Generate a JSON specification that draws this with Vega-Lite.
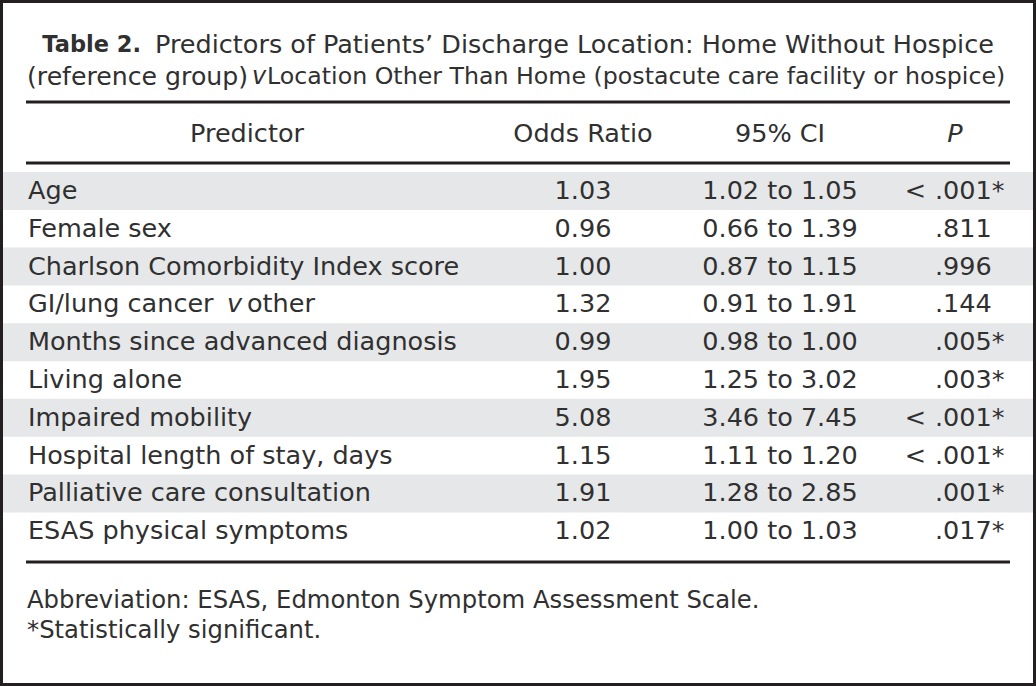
{
  "$schema": "https://vega.github.io/schema/vega-lite/v6.json",
  "width": 1036,
  "height": 686,
  "autosize": {"type": "fit", "contains": "padding"},
  "padding": 0,
  "background": "white",
  "config": {
    "view": {"stroke": "#231f20", "strokeWidth": 6},
    "text": {"font": "DejaVu Sans", "fontSize": 25.5, "color": "#303030", "baseline": "middle"}
  },
  "datasets": {
    "rows": [
      {"i": 1, "Predictor": "Age", "OR": "1.03", "CI": "1.02 to 1.05", "Pcmp": "<", "P": ".001*"},
      {"i": 2, "Predictor": "Female sex", "OR": "0.96", "CI": "0.66 to 1.39", "Pcmp": "", "P": ".811"},
      {"i": 3, "Predictor": "Charlson Comorbidity Index score", "OR": "1.00", "CI": "0.87 to 1.15", "Pcmp": "", "P": ".996"},
      {"i": 4, "Predictor": "GI/lung cancer v other", "OR": "1.32", "CI": "0.91 to 1.91", "Pcmp": "", "P": ".144"},
      {"i": 5, "Predictor": "Months since advanced diagnosis", "OR": "0.99", "CI": "0.98 to 1.00", "Pcmp": "", "P": ".005*"},
      {"i": 6, "Predictor": "Living alone", "OR": "1.95", "CI": "1.25 to 3.02", "Pcmp": "", "P": ".003*"},
      {"i": 7, "Predictor": "Impaired mobility", "OR": "5.08", "CI": "3.46 to 7.45", "Pcmp": "<", "P": ".001*"},
      {"i": 8, "Predictor": "Hospital length of stay, days", "OR": "1.15", "CI": "1.11 to 1.20", "Pcmp": "<", "P": ".001*"},
      {"i": 9, "Predictor": "Palliative care consultation", "OR": "1.91", "CI": "1.28 to 2.85", "Pcmp": "", "P": ".001*"},
      {"i": 10, "Predictor": "ESAS physical symptoms", "OR": "1.02", "CI": "1.00 to 1.03", "Pcmp": "", "P": ".017*"}
    ]
  },
  "layer": [
    {
      "data": {"name": "rows"},
      "transform": [{"filter": "datum.i % 2 == 1"}],
      "mark": {"type": "tick", "orient": "horizontal", "color": "#e6e7e8", "size": 1030, "thickness": 38, "opacity": 1},
      "encoding": {
        "x": {"datum": 518, "type": "quantitative", "scale": {"domain": [0, 1036], "nice": false, "zero": false}, "axis": null},
        "y": {"field": "i", "type": "quantitative", "scale": {"domain": [-4.053, 14.095], "reverse": true, "nice": false, "zero": false}, "axis": null}
      }
    },
    {
      "data": {"name": "rows"},
      "transform": [{"filter": "datum.i != 4"}],
      "mark": {"type": "text", "align": "left"},
      "encoding": {
        "x": {"datum": 28, "type": "quantitative", "scale": {"domain": [0, 1036], "nice": false, "zero": false}, "axis": null},
        "y": {"field": "i", "type": "quantitative", "scale": {"domain": [-4.053, 14.095], "reverse": true, "nice": false, "zero": false}, "axis": null},
        "text": {"field": "Predictor"}
      }
    },
    {
      "data": {"values": [{"i": 4, "part": "GI/lung cancer"}]},
      "mark": {"type": "text", "align": "left"},
      "encoding": {
        "x": {"datum": 28, "type": "quantitative", "scale": {"domain": [0, 1036], "nice": false, "zero": false}, "axis": null},
        "y": {"field": "i", "type": "quantitative", "scale": {"domain": [-4.053, 14.095], "reverse": true, "nice": false, "zero": false}, "axis": null},
        "text": {"field": "part"}
      }
    },
    {
      "data": {"values": [{"i": 4, "part": "v"}]},
      "mark": {"type": "text", "align": "left", "fontStyle": "italic"},
      "encoding": {
        "x": {"datum": 227, "type": "quantitative", "scale": {"domain": [0, 1036], "nice": false, "zero": false}, "axis": null},
        "y": {"field": "i", "type": "quantitative", "scale": {"domain": [-4.053, 14.095], "reverse": true, "nice": false, "zero": false}, "axis": null},
        "text": {"field": "part"}
      }
    },
    {
      "data": {"values": [{"i": 4, "part": "other"}]},
      "mark": {"type": "text", "align": "left"},
      "encoding": {
        "x": {"datum": 247, "type": "quantitative", "scale": {"domain": [0, 1036], "nice": false, "zero": false}, "axis": null},
        "y": {"field": "i", "type": "quantitative", "scale": {"domain": [-4.053, 14.095], "reverse": true, "nice": false, "zero": false}, "axis": null},
        "text": {"field": "part"}
      }
    },
    {
      "data": {"name": "rows"},
      "mark": {"type": "text", "align": "center"},
      "encoding": {
        "x": {"datum": 583, "type": "quantitative", "scale": {"domain": [0, 1036], "nice": false, "zero": false}, "axis": null},
        "y": {"field": "i", "type": "quantitative", "scale": {"domain": [-4.053, 14.095], "reverse": true, "nice": false, "zero": false}, "axis": null},
        "text": {"field": "OR"}
      }
    },
    {
      "data": {"name": "rows"},
      "mark": {"type": "text", "align": "center"},
      "encoding": {
        "x": {"datum": 780, "type": "quantitative", "scale": {"domain": [0, 1036], "nice": false, "zero": false}, "axis": null},
        "y": {"field": "i", "type": "quantitative", "scale": {"domain": [-4.053, 14.095], "reverse": true, "nice": false, "zero": false}, "axis": null},
        "text": {"field": "CI"}
      }
    },
    {
      "data": {"name": "rows"},
      "transform": [{"filter": "datum.Pcmp != ''"}],
      "mark": {"type": "text", "align": "right"},
      "encoding": {
        "x": {"datum": 926, "type": "quantitative", "scale": {"domain": [0, 1036], "nice": false, "zero": false}, "axis": null},
        "y": {"field": "i", "type": "quantitative", "scale": {"domain": [-4.053, 14.095], "reverse": true, "nice": false, "zero": false}, "axis": null},
        "text": {"field": "Pcmp"}
      }
    },
    {
      "data": {"name": "rows"},
      "mark": {"type": "text", "align": "left"},
      "encoding": {
        "x": {"datum": 935, "type": "quantitative", "scale": {"domain": [0, 1036], "nice": false, "zero": false}, "axis": null},
        "y": {"field": "i", "type": "quantitative", "scale": {"domain": [-4.053, 14.095], "reverse": true, "nice": false, "zero": false}, "axis": null},
        "text": {"field": "P"}
      }
    },
    {
      "data": {"values": [
        {"col": "Predictor", "pos": 247},
        {"col": "Odds Ratio", "pos": 583},
        {"col": "95% CI", "pos": 780}
      ]},
      "mark": {"type": "text", "align": "center"},
      "encoding": {
        "x": {"field": "pos", "type": "quantitative", "scale": {"domain": [0, 1036], "nice": false, "zero": false}, "axis": null},
        "y": {"datum": -0.508, "type": "quantitative", "scale": {"domain": [-4.053, 14.095], "reverse": true, "nice": false, "zero": false}, "axis": null},
        "text": {"field": "col"}
      }
    },
    {
      "data": {"values": [{"col": "P"}]},
      "mark": {"type": "text", "align": "center", "fontStyle": "italic"},
      "encoding": {
        "x": {"datum": 955, "type": "quantitative", "scale": {"domain": [0, 1036], "nice": false, "zero": false}, "axis": null},
        "y": {"datum": -0.508, "type": "quantitative", "scale": {"domain": [-4.053, 14.095], "reverse": true, "nice": false, "zero": false}, "axis": null},
        "text": {"field": "col"}
      }
    },
    {
      "data": {"values": [{"t": "Table 2."}]},
      "mark": {"type": "text", "align": "right", "fontWeight": "bold", "fontSize": 22.5},
      "encoding": {
        "x": {"datum": 141, "type": "quantitative", "scale": {"domain": [0, 1036], "nice": false, "zero": false}, "axis": null},
        "y": {"datum": -2.862, "type": "quantitative", "scale": {"domain": [-4.053, 14.095], "reverse": true, "nice": false, "zero": false}, "axis": null},
        "text": {"field": "t"}
      }
    },
    {
      "data": {"values": [{"t": "Predictors of Patients’ Discharge Location: Home Without Hospice"}]},
      "mark": {"type": "text", "align": "left", "fontSize": 25.5},
      "encoding": {
        "x": {"datum": 155, "type": "quantitative", "scale": {"domain": [0, 1036], "nice": false, "zero": false}, "axis": null},
        "y": {"datum": -2.862, "type": "quantitative", "scale": {"domain": [-4.053, 14.095], "reverse": true, "nice": false, "zero": false}, "axis": null},
        "text": {"field": "t"}
      }
    },
    {
      "data": {"values": [{"t": "(reference group)"}]},
      "mark": {"type": "text", "align": "left", "fontSize": 25.2},
      "encoding": {
        "x": {"datum": 27, "type": "quantitative", "scale": {"domain": [0, 1036], "nice": false, "zero": false}, "axis": null},
        "y": {"datum": -2.016, "type": "quantitative", "scale": {"domain": [-4.053, 14.095], "reverse": true, "nice": false, "zero": false}, "axis": null},
        "text": {"field": "t"}
      }
    },
    {
      "data": {"values": [{"t": "v"}]},
      "mark": {"type": "text", "align": "left", "fontSize": 24, "fontStyle": "italic"},
      "encoding": {
        "x": {"datum": 252, "type": "quantitative", "scale": {"domain": [0, 1036], "nice": false, "zero": false}, "axis": null},
        "y": {"datum": -2.016, "type": "quantitative", "scale": {"domain": [-4.053, 14.095], "reverse": true, "nice": false, "zero": false}, "axis": null},
        "text": {"field": "t"}
      }
    },
    {
      "data": {"values": [{"t": "Location Other Than Home (postacute care facility or hospice)"}]},
      "mark": {"type": "text", "align": "left", "fontSize": 23.7},
      "encoding": {
        "x": {"datum": 267, "type": "quantitative", "scale": {"domain": [0, 1036], "nice": false, "zero": false}, "axis": null},
        "y": {"datum": -2.016, "type": "quantitative", "scale": {"domain": [-4.053, 14.095], "reverse": true, "nice": false, "zero": false}, "axis": null},
        "text": {"field": "t"}
      }
    },
    {
      "data": {"values": [
        {"line": "top", "pos": -1.354},
        {"line": "header", "pos": 0.259},
        {"line": "bottom", "pos": 10.815}
      ]},
      "mark": {"type": "rule", "color": "#231f20", "strokeWidth": 2.8, "strokeCap": "butt"},
      "encoding": {
        "x": {"datum": 26, "type": "quantitative", "scale": {"domain": [0, 1036], "nice": false, "zero": false}, "axis": null},
        "x2": {"datum": 1010},
        "y": {"field": "pos", "type": "quantitative", "scale": {"domain": [-4.053, 14.095], "reverse": true, "nice": false, "zero": false}, "axis": null}
      }
    },
    {
      "data": {"values": [
        {"note": "Abbreviation: ESAS, Edmonton Symptom Assessment Scale.", "pos": 11.847},
        {"note": "*Statistically significant.", "pos": 12.64}
      ]},
      "mark": {"type": "text", "align": "left", "fontSize": 24.3},
      "encoding": {
        "x": {"datum": 27, "type": "quantitative", "scale": {"domain": [0, 1036], "nice": false, "zero": false}, "axis": null},
        "y": {"field": "pos", "type": "quantitative", "scale": {"domain": [-4.053, 14.095], "reverse": true, "nice": false, "zero": false}, "axis": null},
        "text": {"field": "note"}
      }
    }
  ]
}
